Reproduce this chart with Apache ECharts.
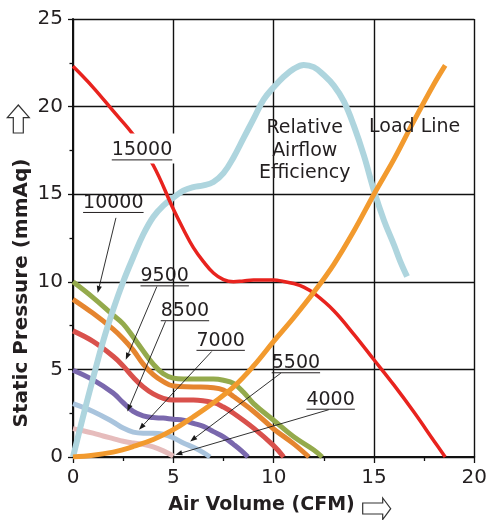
<!DOCTYPE html>
<html>
<head>
<meta charset="utf-8">
<script src="https://cdn.jsdelivr.net/npm/echarts/dist/echarts.min.js"></script>
<style>
  html, body { margin: 0; padding: 0; background: #fff; }
  #chart { width: 490px; height: 520px; }
</style>
</head>
<body>
<div id="chart"></div>
<script>
// Fan performance curves: static pressure (mmAq) against air volume (CFM)
const fan15000 = [[0,22.3],[1,21.1],[2,19.75],[3,18.4],[4,16.65],[5,14.15],[5.5,13.0],[6,11.95],[6.5,11.15],[7,10.5],[7.5,10.12],[8,10.0],[8.5,10.05],[9,10.1],[10,10.1],[10.5,10.02],[11,9.9],[11.5,9.7],[12,9.35],[13,8.35],[14,7.0],[15,5.55],[16,4.1],[17,2.55],[18,0.9],[18.55,0]];
const fan10000 = [[0,10],[1,9.1],[2,8.1],[2.5,7.6],[3,6.85],[3.5,6.05],[4,5.3],[4.5,4.75],[5,4.5],[5.5,4.45],[6,4.45],[7,4.45],[7.5,4.38],[8,4.2],[8.5,3.7],[9,3.05],[10,2.1],[11,1.15],[12,0.4],[12.42,0]];
const fan9500 = [[0,9],[1,8.2],[2,7.3],[2.5,6.75],[3,6.1],[3.5,5.3],[4,4.7],[4.5,4.3],[5,4.05],[6,4.0],[7,3.95],[7.5,3.82],[8,3.45],[9,2.6],[10,1.6],[11,0.75],[11.76,0]];
const fan8500 = [[0,7.2],[1,6.6],[2,5.75],[2.5,5.2],[3,4.55],[3.5,4.0],[4,3.6],[4.5,3.35],[5,3.25],[6,3.25],[7,3.1],[7.5,2.85],[8,2.5],[9,1.65],[10,0.65],[10.5,0]];
const fan7000 = [[0,4.95],[1,4.4],[2,3.65],[2.5,3.1],[3,2.6],[3.5,2.35],[4,2.25],[4.5,2.22],[5,2.15],[5.5,2.1],[6,1.92],[6.5,1.75],[7,1.45],[7.5,1.15],[8,0.72],[8.4,0.35],[8.72,0]];
const fan5500 = [[0,3.05],[1,2.6],[2,2.0],[2.5,1.65],[3,1.42],[3.5,1.36],[4,1.36],[4.5,1.3],[5,1.1],[5.5,0.8],[6,0.55],[6.5,0.25],[6.83,0]];
const fan4000 = [[0,1.62],[0.5,1.5],[1,1.36],[1.5,1.2],[2,1.05],[2.5,0.9],[3,0.8],[3.5,0.72],[4,0.58],[4.5,0.35],[5,0.05]];
const efficiency = [[0,0],[0.5,2.3],[1,4.5],[1.5,6.6],[2,8.4],[2.5,10.0],[3,11.4],[3.5,12.7],[4,13.7],[4.5,14.35],[5,14.8],[5.5,15.2],[6,15.4],[6.5,15.5],[7,15.7],[7.5,16.2],[8,17.1],[8.5,18.2],[9,19.3],[9.5,20.4],[10,21.1],[10.5,21.7],[11,22.15],[11.5,22.38],[12,22.25],[12.5,21.8],[13,21.2],[13.5,20.3],[14,18.9],[14.5,17.2],[15,15.2],[15.5,13.5],[16,12.1],[16.3,11.2],[16.65,10.3]];
const loadLine = [[0,0],[1,0.1],[2,0.28],[2.5,0.42],[3,0.6],[4,1.0],[5,1.56],[6,2.3],[7,3.1],[8,4.0],[9,5.2],[10,6.6],[11,7.95],[12,9.4],[13,11.0],[14,12.9],[15,15.0],[16,17.0],[17,19.2],[18,21.3],[18.55,22.35]];

// Axis ranges and ticks
const xTicks = [0, 5, 10, 15, 20];
const yTicks = [0, 5, 10, 15, 20, 25];

// Speed labels (rpm) with their anchor, leader start and leader tip, in data units
const speedNames = ['15000', '10000', '9500', '8500', '7000', '5500', '4000'];
const speedLabelAt = [[3.44,17.5],[2.01,14.5],[4.57,10.31],[5.58,8.32],[7.36,6.63],[11.11,5.35],[12.84,3.27]];
const leaderFrom = [null,[2.14,13.65],[4.18,9.73],[4.61,7.74],[6.91,6.02],[10.36,4.79],[12.75,2.7]];
const leaderTo = [null,[1.23,9.36],[2.63,5.55],[2.71,2.6],[3.29,1.56],[5.84,0.89],[5.1,0.13]];

const curveNotes = ['Relative\nAirflow\nEfficiency', 'Load Line'];
const curveNoteAt = [[11.55,17.47],[17.03,18.84]];

const FONT = '"DejaVu Sans", sans-serif';
const INK = '#231f20';

const chart = echarts.init(document.getElementById('chart'), null, { renderer: 'canvas' });

function line(name, data, color, width) {
  return {
    name, type: 'line', data, showSymbol: false, symbol: 'none',
    smooth: 0.4,
    lineStyle: { color, width }, silent: true
  };
}

chart.setOption({
  animation: false,
  backgroundColor: '#fff',
  grid: { left: 73, right: 11, top: 19, bottom: 63 },
  xAxis: {
    type: 'value', min: xTicks[0], max: xTicks[xTicks.length - 1], interval: 5,
    axisLine: { show: true, onZero: false, lineStyle: { color: '#111', width: 2 } },
    axisTick: { show: true, inside: false, length: 6, lineStyle: { color: '#111', width: 1.3 } },
    minorTick: { show: true, splitNumber: 2, length: 4, lineStyle: { color: '#111', width: 1.3 } },
    splitLine: { show: true, lineStyle: { color: '#111', width: 1.4 } },
    axisLabel: { color: INK, fontFamily: FONT, fontSize: 20, margin: 11 }
  },
  yAxis: {
    type: 'value', min: yTicks[0], max: yTicks[yTicks.length - 1], interval: 5,
    axisLine: { show: true, onZero: false, lineStyle: { color: '#111', width: 2 } },
    axisTick: { show: true, inside: false, length: 5, lineStyle: { color: '#111', width: 1.3 } },
    minorTick: { show: true, splitNumber: 2, length: 3.5, lineStyle: { color: '#111', width: 1.3 } },
    splitLine: { show: true, lineStyle: { color: '#111', width: 1.4 } },
    axisLabel: { color: INK, fontFamily: FONT, fontSize: 20, margin: 10 }
  },
  series: [
    line('4000', fan4000, '#e6bcbc', 5),
    line('5500', fan5500, '#a9c4dd', 5),
    line('7000', fan7000, '#7a68ad', 5),
    line('8500', fan8500, '#d9514c', 5),
    line('9500', fan9500, '#e5852f', 5),
    line('10000', fan10000, '#94aa4c', 5),
    line('Relative Airflow Efficiency', efficiency, '#aed5de', 6),
    line('15000', fan15000, '#e8231e', 3.5),
    line('Load Line', loadLine, '#f29a2e', 5)
  ]
});

// Annotations placed through the grid's coordinate system
const toPx = p => chart.convertToPixel({ gridIndex: 0 }, p);
const elements = [];

speedNames.forEach((name, i) => {
  const c = toPx(speedLabelAt[i]);
  const w = name.length * 12.1;
  if (!leaderFrom[i]) {
    // white plate that interrupts the curve behind the label
    elements.push({ type: 'rect', z: 100, shape: { x: c[0] - w / 2 - 3, y: c[1] - 17, width: w + 6, height: 30 }, style: { fill: '#fff' } });
  }
  elements.push({
    type: 'text', z: 102, x: c[0], y: c[1],
    style: { text: name, fill: INK, font: '19px ' + FONT, align: 'center', verticalAlign: 'middle' }
  });
  elements.push({
    type: 'line', z: 102,
    shape: { x1: c[0] - w / 2, y1: c[1] + 9.5, x2: c[0] + w / 2, y2: c[1] + 9.5 },
    style: { stroke: INK, lineWidth: 1 }
  });
  if (leaderFrom[i]) {
    const a = toPx(leaderFrom[i]);
    const b = toPx(leaderTo[i]);
    const dx = b[0] - a[0], dy = b[1] - a[1];
    const len = Math.hypot(dx, dy);
    const ux = dx / len, uy = dy / len;
    const hl = 7, hw = 2.6;
    const bx = b[0] - ux * hl, by = b[1] - uy * hl;
    elements.push({
      type: 'line', z: 101,
      shape: { x1: a[0], y1: a[1], x2: bx, y2: by },
      style: { stroke: '#1a1a1a', lineWidth: 0.9 }
    });
    elements.push({
      type: 'polygon', z: 101,
      shape: { points: [[b[0], b[1]], [bx - uy * hw, by + ux * hw], [bx + uy * hw, by - ux * hw]] },
      style: { fill: '#1a1a1a' }
    });
  }
});

curveNotes.forEach((t, i) => {
  const c = toPx(curveNoteAt[i]);
  elements.push({
    type: 'text', z: 102, x: c[0], y: c[1],
    style: { text: t, fill: INK, font: '19px ' + FONT, align: 'center', verticalAlign: 'middle', lineHeight: 22.5 }
  });
});

// Axis titles with outline arrows
elements.push({
  type: 'text', z: 102, x: 22, y: 293, rotation: Math.PI / 2,
  style: { text: 'Static Pressure (mmAq)', fill: INK, font: 'bold 20px ' + FONT, align: 'center', verticalAlign: 'middle' }
});
elements.push({
  type: 'polygon', z: 102,
  shape: { points: [[18.3,105],[29.3,117.7],[23.3,117.7],[23.3,133],[13.3,133],[13.3,117.7],[7.3,117.7]] },
  style: { fill: '#fff', stroke: '#333', lineWidth: 1.2 }
});
elements.push({
  type: 'text', z: 102, x: 261.5, y: 505,
  style: { text: 'Air Volume (CFM)', fill: INK, font: 'bold 19px ' + FONT, align: 'center', verticalAlign: 'middle' }
});
elements.push({
  type: 'polygon', z: 102,
  shape: { points: [[362.7,503],[382.7,503],[382.7,498],[390.7,508.7],[382.7,519.5],[382.7,514],[362.7,514]] },
  style: { fill: '#fff', stroke: '#333', lineWidth: 1.2 }
});

chart.setOption({ graphic: { elements } });
</script>
</body>
</html>
